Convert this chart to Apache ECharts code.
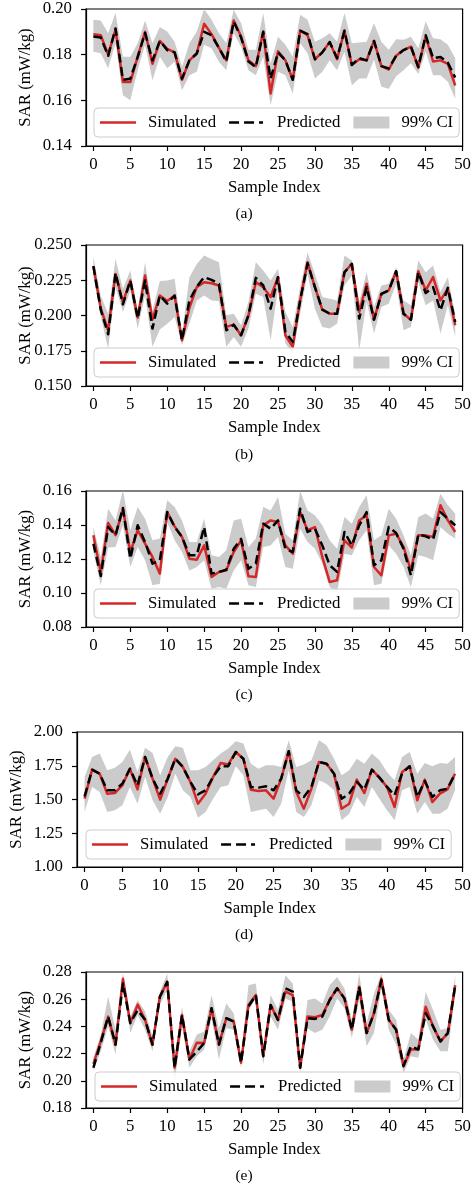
<!DOCTYPE html>
<html>
<head>
<meta charset="utf-8">
<script src="https://cdn.jsdelivr.net/npm/echarts@6/dist/echarts.min.js"></script>
<style>
  html, body { margin: 0; padding: 0; background: #fff; }
  #chart { width: 474px; height: 1184px; }
</style>
</head>
<body>
<div id="chart"></div>
<script>
// Sample indices and axis ticks
const sampleIndex = Array.from({ length: 50 }, (_, i) => i);
const xTicks = [0, 5, 10, 15, 20, 25, 30, 35, 40, 45, 50];
const captions = ['(a)', '(b)', '(c)', '(d)', '(e)'];

// (a)
const simA = [0.189,0.1885,0.180,0.191,0.168,0.168,0.179,0.190,0.176,0.186,0.1825,0.181,0.169,0.1775,0.1805,0.1935,0.189,0.183,0.1775,0.195,0.188,0.1775,0.175,0.190,0.163,0.1815,0.1775,0.169,0.1905,0.1885,0.178,0.181,0.1855,0.178,0.1905,0.1755,0.178,0.1775,0.186,0.175,0.1735,0.1795,0.182,0.1835,0.1745,0.188,0.177,0.1775,0.176,0.1665];
const predA = [0.188,0.1875,0.1795,0.1915,0.169,0.1695,0.179,0.1895,0.1775,0.186,0.182,0.181,0.1695,0.1775,0.1805,0.190,0.1885,0.183,0.177,0.1945,0.1875,0.177,0.1745,0.190,0.1695,0.181,0.1775,0.169,0.1905,0.189,0.178,0.181,0.1855,0.1785,0.1905,0.1755,0.1785,0.1775,0.186,0.175,0.174,0.1795,0.182,0.1835,0.1745,0.1885,0.1785,0.179,0.1765,0.170];
const hiA = [0.1953,0.195,0.1894,0.1982,0.1791,0.1791,0.185,0.195,0.185,0.1921,0.1901,0.1857,0.1747,0.185,0.1901,0.2,0.1953,0.1894,0.185,0.1997,0.1938,0.1821,0.1821,0.1982,0.1762,0.1879,0.1843,0.1791,0.1975,0.1953,0.1857,0.1872,0.1894,0.1857,0.1982,0.185,0.1853,0.1857,0.1938,0.1857,0.1821,0.1868,0.1865,0.1879,0.1828,0.1946,0.1872,0.1868,0.1843,0.1784];
const loA = [0.1813,0.1806,0.174,0.185,0.1622,0.16,0.1732,0.1843,0.1688,0.1791,0.174,0.1769,0.1644,0.171,0.1725,0.1843,0.1828,0.1769,0.1732,0.1894,0.1835,0.1732,0.171,0.1791,0.1578,0.1725,0.171,0.1629,0.185,0.1806,0.1696,0.1725,0.1776,0.1732,0.1813,0.1666,0.1696,0.1696,0.1779,0.1659,0.1651,0.1706,0.1732,0.1762,0.1715,0.1813,0.171,0.171,0.1681,0.1607];

// (b)
const simB = [0.235,0.205,0.1895,0.2295,0.2095,0.2248,0.1985,0.2284,0.197,0.2142,0.2102,0.2142,0.1825,0.2055,0.2201,0.2236,0.2229,0.2213,0.1919,0.1935,0.186,0.2001,0.2236,0.2201,0.2131,0.2272,0.186,0.1778,0.2107,0.2378,0.2201,0.2041,0.2013,0.2013,0.2307,0.2366,0.2025,0.2225,0.197,0.2154,0.2178,0.2314,0.2013,0.197,0.2314,0.2178,0.2272,0.2107,0.2189,0.1931];
const predB = [0.235,0.204,0.1867,0.230,0.2079,0.2248,0.198,0.2248,0.1907,0.2142,0.2084,0.2142,0.1825,0.2107,0.2205,0.2272,0.2253,0.2225,0.1895,0.1935,0.186,0.2001,0.2267,0.2213,0.2048,0.2272,0.1884,0.1813,0.2107,0.237,0.2201,0.2041,0.2013,0.2013,0.2307,0.2366,0.1978,0.2201,0.197,0.2154,0.2178,0.2314,0.2013,0.197,0.2307,0.2159,0.2201,0.2036,0.2196,0.1954];
const hiB = [0.2418,0.214,0.2013,0.2401,0.2189,0.2319,0.2036,0.2378,0.2036,0.2245,0.2248,0.226,0.1872,0.2272,0.2366,0.2425,0.2401,0.2378,0.2001,0.2013,0.1931,0.2095,0.2378,0.2319,0.2248,0.2331,0.2025,0.1919,0.2201,0.2448,0.2295,0.2131,0.2119,0.2107,0.2425,0.239,0.2095,0.2307,0.206,0.2213,0.2225,0.2342,0.2107,0.2072,0.239,0.2307,0.2354,0.2166,0.2272,0.2013];
const loB = [0.2284,0.199,0.1766,0.2201,0.2025,0.2178,0.1907,0.2142,0.1778,0.190,0.1942,0.199,0.179,0.1942,0.2107,0.2142,0.2107,0.2102,0.1778,0.1848,0.1778,0.1907,0.2154,0.2131,0.1825,0.2189,0.1801,0.173,0.2013,0.2295,0.2048,0.1919,0.1907,0.1942,0.2213,0.2284,0.1754,0.2095,0.1872,0.206,0.2084,0.2225,0.1895,0.1919,0.2236,0.2072,0.2107,0.1872,0.2072,0.1848];

// (c)
const simC = [0.134,0.112,0.1412,0.134,0.1496,0.1241,0.1369,0.129,0.1212,0.1114,0.1476,0.1392,0.133,0.1202,0.1196,0.128,0.1094,0.1124,0.1133,0.1241,0.131,0.1098,0.1094,0.1398,0.1427,0.1418,0.128,0.1231,0.1476,0.1369,0.1388,0.1212,0.1065,0.1075,0.131,0.1267,0.1427,0.1457,0.1153,0.1104,0.1339,0.1349,0.1271,0.1133,0.1339,0.1339,0.133,0.1516,0.1427,0.1359];
const predC = [0.129,0.110,0.1388,0.134,0.150,0.1202,0.1398,0.130,0.1173,0.1192,0.1476,0.1388,0.133,0.1222,0.1222,0.1388,0.1114,0.1124,0.1137,0.126,0.1318,0.1143,0.1173,0.1408,0.1378,0.1427,0.126,0.1241,0.1496,0.1359,0.1378,0.128,0.1163,0.1124,0.1359,0.128,0.1398,0.1476,0.1163,0.1192,0.1388,0.1353,0.126,0.1104,0.1345,0.1333,0.1314,0.1476,0.1437,0.1398];
const hiC = [0.1388,0.1212,0.1496,0.1427,0.1604,0.1369,0.1506,0.1437,0.131,0.132,0.1545,0.1506,0.1427,0.13,0.13,0.1437,0.1222,0.1212,0.1251,0.1427,0.1437,0.1271,0.132,0.1506,0.1486,0.1565,0.1349,0.131,0.16,0.1486,0.1457,0.1398,0.131,0.1261,0.1447,0.1408,0.1506,0.1575,0.131,0.1339,0.1496,0.1437,0.1339,0.1222,0.1447,0.1467,0.1437,0.1584,0.1516,0.1467];
const loC = [0.1241,0.1045,0.1267,0.1271,0.1398,0.1153,0.1271,0.1192,0.1045,0.1055,0.1418,0.131,0.1241,0.1133,0.1153,0.1192,0.1025,0.1035,0.1025,0.1133,0.1192,0.1045,0.1035,0.1271,0.128,0.133,0.1153,0.1143,0.1378,0.13,0.126,0.1173,0.1035,0.1006,0.1231,0.1222,0.131,0.1369,0.1045,0.1055,0.128,0.1231,0.1153,0.1035,0.1222,0.1212,0.1192,0.1388,0.1349,0.132];

// (d)
const simD = [1.506,1.721,1.691,1.543,1.548,1.605,1.728,1.575,1.815,1.654,1.499,1.654,1.802,1.741,1.63,1.469,1.543,1.667,1.77,1.76,1.852,1.802,1.573,1.563,1.568,1.506,1.654,1.857,1.556,1.432,1.58,1.778,1.765,1.691,1.432,1.469,1.647,1.548,1.721,1.662,1.593,1.444,1.704,1.746,1.494,1.647,1.481,1.543,1.575,1.691];
const predD = [1.523,1.721,1.691,1.568,1.568,1.617,1.728,1.605,1.815,1.654,1.543,1.654,1.802,1.741,1.63,1.538,1.568,1.667,1.746,1.746,1.852,1.802,1.593,1.588,1.598,1.568,1.654,1.857,1.568,1.519,1.593,1.778,1.765,1.691,1.506,1.543,1.63,1.573,1.721,1.662,1.593,1.531,1.696,1.746,1.519,1.637,1.519,1.568,1.58,1.691];
const hiD = [1.667,1.815,1.84,1.716,1.736,1.778,1.869,1.704,1.884,1.844,1.679,1.815,1.894,1.884,1.716,1.716,1.741,1.79,1.84,1.877,1.931,1.914,1.765,1.728,1.753,1.753,1.741,1.938,1.741,1.76,1.79,1.938,1.901,1.802,1.679,1.716,1.802,1.765,1.84,1.79,1.704,1.642,1.815,1.852,1.691,1.77,1.746,1.77,1.765,1.815];
const loD = [1.407,1.593,1.556,1.407,1.42,1.457,1.593,1.469,1.667,1.494,1.395,1.519,1.691,1.568,1.519,1.365,1.407,1.506,1.593,1.605,1.746,1.679,1.407,1.42,1.432,1.37,1.469,1.716,1.407,1.37,1.457,1.642,1.617,1.568,1.346,1.395,1.519,1.444,1.593,1.506,1.42,1.346,1.568,1.593,1.395,1.481,1.395,1.395,1.432,1.568];

// (e)
const simE = [0.2125,0.229,0.2472,0.2266,0.275,0.2424,0.256,0.2448,0.2266,0.2618,0.2727,0.2096,0.2484,0.2157,0.228,0.2278,0.2533,0.2266,0.246,0.2436,0.2133,0.2557,0.263,0.2181,0.2557,0.2448,0.2655,0.263,0.2096,0.2472,0.2467,0.2484,0.2594,0.268,0.2606,0.2375,0.2691,0.2351,0.2497,0.2751,0.2448,0.2375,0.2108,0.223,0.223,0.2545,0.24,0.229,0.2351,0.2703];
const predE = [0.2096,0.228,0.2472,0.2266,0.2715,0.2424,0.252,0.2448,0.2266,0.2618,0.2727,0.2096,0.2484,0.2157,0.2215,0.2278,0.2533,0.2266,0.246,0.2436,0.2133,0.2545,0.263,0.2181,0.2557,0.2448,0.268,0.2655,0.2096,0.246,0.2455,0.2472,0.2594,0.268,0.2606,0.2375,0.2691,0.2351,0.2497,0.2739,0.2448,0.2375,0.2108,0.2254,0.223,0.2497,0.24,0.229,0.2351,0.2703];
const hiE = [0.2169,0.2339,0.262,0.2375,0.2793,0.2472,0.2594,0.2509,0.2327,0.2655,0.2788,0.2157,0.2545,0.2218,0.2339,0.2363,0.263,0.2387,0.2569,0.2497,0.2181,0.2703,0.2715,0.2242,0.263,0.2521,0.2776,0.2715,0.2157,0.2594,0.2606,0.2569,0.2703,0.2764,0.2679,0.2448,0.2788,0.2424,0.2642,0.2788,0.2521,0.2448,0.2157,0.2351,0.2302,0.2655,0.2521,0.2375,0.2387,0.2776];
const loE = [0.2072,0.2218,0.240,0.2193,0.2691,0.2351,0.2484,0.2375,0.2218,0.2557,0.2667,0.1987,0.240,0.2096,0.2181,0.223,0.246,0.2157,0.2387,0.2375,0.2096,0.2521,0.2606,0.212,0.2472,0.2375,0.2606,0.2582,0.206,0.2387,0.2351,0.2375,0.2472,0.2606,0.2533,0.2315,0.2594,0.2254,0.2351,0.2679,0.2375,0.2266,0.206,0.2181,0.2169,0.2448,0.2302,0.2218,0.2218,0.263];

// Y-axis ranges per panel
const yRanges = [
  { min: 0.14, max: 0.20, step: 0.02, dec: 2 },
  { min: 0.150, max: 0.250, step: 0.025, dec: 3 },
  { min: 0.08, max: 0.16, step: 0.02, dec: 2 },
  { min: 1.00, max: 2.00, step: 0.25, dec: 2 },
  { min: 0.18, max: 0.28, step: 0.02, dec: 2 }
];

const panelData = [
  { sim: simA, pred: predA, hi: hiA, lo: loA },
  { sim: simB, pred: predB, hi: hiB, lo: loB },
  { sim: simC, pred: predC, hi: hiC, lo: loC },
  { sim: simD, pred: predD, hi: hiD, lo: loD },
  { sim: simE, pred: predE, hi: hiE, lo: loE }
];

// Layout of the five stacked plots (pixels)
const layout = [
  { left: 86, top: 9,   height: 137, legendLeft: 94, legendTop: 108, captionY: 214 },
  { left: 86, top: 245, height: 141, legendLeft: 94, legendTop: 348, captionY: 455 },
  { left: 86, top: 491, height: 136, legendLeft: 94, legendTop: 589, captionY: 695 },
  { left: 77, top: 732, height: 135, legendLeft: 86, legendTop: 830, captionY: 935 },
  { left: 86, top: 972, height: 136, legendLeft: 95, legendTop: 1072, captionY: 1176 }
];
const PLOT_RIGHT = 464;

const FONT = '"Liberation Serif", "Times New Roman", serif';
const FS = 16.8;
const RED = '#d62728';
const BAND = '#cbcbcb';
const DASH = [9, 4.5];

// Legend icons: filled paths inside a 36x12 box (corner moveTo points fix the box)
const LINE_ICON = 'path://M0,0 M36,12 M0,4.75 L36,4.75 L36,7.25 L0,7.25 Z';
const DASH_ICON = 'path://M0,0 M36,12 M0,4.75 L10,4.75 L10,7.25 L0,7.25 Z M15,4.75 L25,4.75 L25,7.25 L15,7.25 Z M30,4.75 L34,4.75 L34,7.25 L30,7.25 Z';

// Confidence band drawn as one polygon: upper bound left→right, lower bound right→left
function bandRenderer(lo, hi) {
  return function (params, api) {
    if (params.dataIndex !== 0) return null;
    const upper = sampleIndex.map(i => api.coord([i, hi[i]]));
    const lower = sampleIndex.map(i => api.coord([i, lo[i]])).reverse();
    const cs = params.coordSys;
    return {
      type: 'polygon',
      shape: { points: upper.concat(lower) },
      style: { fill: BAND },
      clipPath: { type: 'rect', shape: { x: cs.x, y: cs.y, width: cs.width, height: cs.height } }
    };
  };
}

const option = {
  animation: false,
  backgroundColor: '#fff',
  grid: [], xAxis: [], yAxis: [], legend: [], series: [], graphic: []
};

layout.forEach((L, k) => {
  const d = panelData[k];
  const r = yRanges[k];
  option.grid.push({
    left: L.left, top: L.top, width: PLOT_RIGHT - L.left, height: L.height,
    show: true, borderColor: '#000', borderWidth: 1.2, backgroundColor: 'transparent'
  });
  option.xAxis.push({
    gridIndex: k, type: 'value', min: -1, max: 50,
    name: 'Sample Index', nameLocation: 'middle', nameGap: 33, nameMoveOverlap: false,
    nameTextStyle: { fontFamily: FONT, fontSize: FS, color: '#000' },
    axisLine: { show: true, onZero: false, lineStyle: { color: '#000', width: 1.2 } },
    axisTick: { show: true, inside: false, length: 5, lineStyle: { color: '#000', width: 1.2 }, customValues: xTicks },
    axisLabel: { customValues: xTicks, margin: 10, fontFamily: FONT, fontSize: FS, color: '#000' },
    splitLine: { show: false }
  });
  option.yAxis.push({
    gridIndex: k, type: 'value', min: r.min, max: r.max, interval: r.step,
    name: 'SAR (mW/kg)', nameLocation: 'middle', nameGap: 52, nameRotate: 90, nameMoveOverlap: false,
    nameTextStyle: { fontFamily: FONT, fontSize: FS, color: '#000' },
    axisLine: { show: true, onZero: false, lineStyle: { color: '#000', width: 1.2 } },
    axisTick: { show: true, inside: false, length: 5, lineStyle: { color: '#000', width: 1.2 } },
    axisLabel: { margin: 14, fontFamily: FONT, fontSize: FS, color: '#000', formatter: v => v.toFixed(r.dec) },
    splitLine: { show: false }
  });
  option.legend.push({
    left: L.legendLeft, top: L.legendTop, orient: 'horizontal', z: 10,
    padding: [6, 6, 6, 6], itemGap: 13, itemWidth: 36, itemHeight: 12,
    backgroundColor: 'rgba(255,255,255,0.8)', borderColor: '#cccccc', borderWidth: 1, borderRadius: 4,
    selectedMode: false,
    textStyle: { fontFamily: FONT, fontSize: FS, color: '#000', padding: [0, 0, 0, 7] },
    data: [
      { name: 'Simulated', icon: LINE_ICON, itemStyle: { color: RED } },
      { name: 'Predicted', icon: DASH_ICON, itemStyle: { color: '#000' } },
      { name: '99% CI', icon: 'rect', itemStyle: { color: BAND } }
    ]
  });
  option.series.push({
    type: 'custom', name: '99% CI', xAxisIndex: k, yAxisIndex: k,
    data: sampleIndex.map(i => [i, d.lo[i], d.hi[i]]),
    encode: { x: 0, y: [1, 2] },
    renderItem: bandRenderer(d.lo, d.hi),
    itemStyle: { color: BAND }, silent: true, z: 1
  });
  option.series.push({
    type: 'line', name: 'Simulated', xAxisIndex: k, yAxisIndex: k,
    data: sampleIndex.map(i => [i, d.sim[i]]), symbol: 'none',
    lineStyle: { color: RED, width: 2.5, join: 'round' }, itemStyle: { color: RED }, z: 2
  });
  option.series.push({
    type: 'line', name: 'Predicted', xAxisIndex: k, yAxisIndex: k,
    data: sampleIndex.map(i => [i, d.pred[i]]), symbol: 'none',
    lineStyle: { color: '#000', width: 2.5, type: DASH, join: 'round' }, itemStyle: { color: '#000' }, z: 3
  });
  option.graphic.push({
    type: 'text', x: 244, y: L.captionY,
    style: { text: captions[k], font: '15.5px ' + FONT, fill: '#000',
             align: 'center', verticalAlign: 'middle', textAlign: 'center', textVerticalAlign: 'middle' }
  });
});

const chart = echarts.init(document.getElementById('chart'), null, { renderer: 'canvas' });
chart.setOption(option);
</script>
</body>
</html>
